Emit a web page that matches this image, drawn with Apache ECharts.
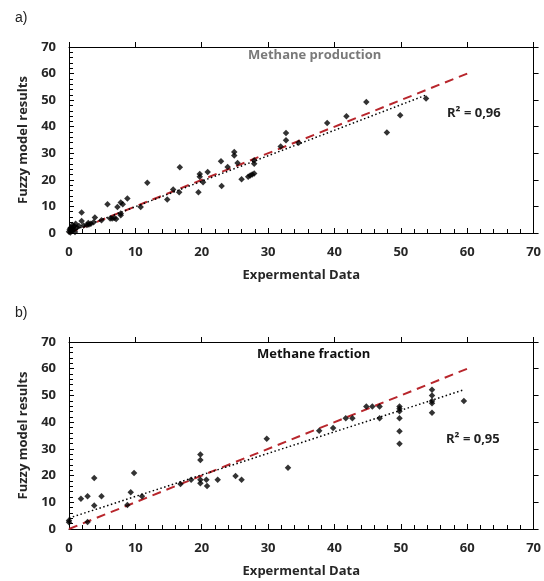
<!DOCTYPE html>
<html>
<head>
<meta charset="utf-8">
<script src="https://cdn.jsdelivr.net/npm/echarts@6/dist/echarts.min.js"></script>
<style>
  html, body { margin: 0; padding: 0; background: #fff; }
  #chart { width: 544px; height: 581px; }
</style>
</head>
<body>
<div id="chart"></div>
<script>
// a) Methane production: experimental vs fuzzy model
const prodX = [0, 0.1, 0.2, 0.3, 0.4, 0.5, 0.5, 0.7, 0.8, 0.9, 1.0, 1.2, 1.5, 0.2, 0.6,
  1.9, 1.9, 2.2, 2.7, 3.0, 3.3, 3.7, 2.9, 3.9, 4.9, 5.8, 6.2, 6.5, 6.8, 7.1, 7.3, 7.8, 8.1, 7.8, 7.8, 8.8,
  10.8, 11.8, 14.8, 15.7, 16.7, 16.6, 19.5, 19.7, 19.7, 20.2, 20.9, 22.9, 23.0, 23.9, 24.9, 24.9, 25.4,
  26.0, 27.0, 27.3, 27.6, 27.9, 27.9, 27.9, 31.9, 32.7, 32.7, 34.6, 38.9, 41.8, 44.8, 47.9, 49.9, 53.8];
const prodY = [0.5, 1.2, 0.2, 2.0, 0.8, 1.6, 3.0, 1.2, 2.5, 0.4, 3.5, 2.1, 2.6, 1.8, 2.2,
  7.7, 4.5, 2.8, 3.0, 3.2, 3.5, 4.0, 3.8, 5.8, 4.8, 10.8, 5.5, 5.5, 5.6, 5.3, 9.8, 11.5, 10.8, 7.3, 6.7, 13.0,
  9.8, 18.9, 12.6, 16.4, 24.7, 15.3, 15.3, 22.2, 21.2, 19.1, 23.0, 27.0, 17.7, 24.8, 30.5, 29.2, 26.3,
  20.2, 21.2, 21.6, 22.0, 22.4, 27.4, 26.1, 32.6, 37.6, 34.9, 34.0, 41.4, 43.9, 49.3, 37.8, 44.3, 50.6];
const prodFitX = [0, 54];
const prodFitY = [0.3, 52.1];

// b) Methane fraction: experimental vs fuzzy model
const fracX = [0, 0, 1.8, 2.8, 2.8, 3.8, 3.8, 4.9, 8.8, 9.3, 9.8, 11.0, 16.8, 18.4,
  19.8, 19.8, 19.8, 19.8, 20.7, 20.8, 22.4, 25.1, 26.0, 29.8, 33.0, 37.7, 39.8, 41.7, 42.7,
  44.8, 45.7, 46.8, 46.8, 49.8, 49.8, 49.8, 49.8, 49.8, 49.8, 54.7, 54.7, 54.7, 54.7, 54.7, 59.5];
const fracY = [3.2, 2.5, 11.3, 12.3, 2.6, 19.1, 8.8, 12.3, 9.0, 13.8, 21.0, 12.3, 16.8, 18.4,
  27.9, 25.8, 18.4, 17.1, 18.4, 16.1, 18.4, 19.8, 18.4, 33.8, 22.9, 36.8, 37.8, 41.5, 41.5,
  45.9, 45.9, 45.9, 41.5, 45.9, 45.0, 44.1, 41.5, 36.6, 31.9, 52.1, 50.0, 47.9, 47.1, 43.5, 47.9];
const fracFitX = [0, 59.5];
const fracFitY = [4.1, 52.1];

// 1:1 reference line shared by both panels
const idealX = [0, 60];
const idealY = [0, 60];

const axisTicks = [0, 10, 20, 30, 40, 50, 60, 70];

const zip = (xs, ys) => xs.map((x, i) => [x, ys[i]]);

const FONT = '"Open Sans", "Noto Sans", sans-serif';
const textDark = '#262626';

const grids = [
  { left: 69, right: 8, top: 47, height: 186 },
  { left: 69, right: 8, top: 342, height: 187 }
];

// Each panel has a labelled axis with inside ticks plus a bare twin with
// outside ticks, so major ticks cross the axis line.
function makeX(gridIndex, withLabels) {
  return {
    type: 'value', gridIndex, min: 0, max: 70, interval: 10,
    name: withLabels ? 'Expermental Data' : '',
    nameLocation: 'middle', nameGap: 36,
    nameTextStyle: { fontFamily: FONT, fontWeight: 'bold', fontSize: 13, color: textDark },
    axisLine: { show: true, onZero: false, lineStyle: { color: '#000', width: 1 } },
    axisTick: { show: true, inside: withLabels, length: 5, lineStyle: { color: '#000' } },
    minorTick: { show: withLabels, splitNumber: 5, length: 4, lineStyle: { color: '#000' } },
    axisLabel: {
      show: withLabels, margin: 13, fontFamily: FONT, fontWeight: 'bold', fontSize: 13, color: textDark,
      formatter: v => axisTicks.includes(v) ? String(v) : ''
    },
    splitLine: { show: false }
  };
}

function makeY(gridIndex, withLabels) {
  return {
    type: 'value', gridIndex, min: 0, max: 70, interval: 10,
    name: withLabels ? 'Fuzzy model results' : '',
    nameLocation: 'middle', nameGap: 36, nameRotate: 90,
    nameTextStyle: { fontFamily: FONT, fontWeight: 'bold', fontSize: 13, color: textDark },
    axisLine: { show: true, onZero: false, lineStyle: { color: '#000', width: 1 } },
    axisTick: { show: true, inside: withLabels, length: 5, lineStyle: { color: '#000' } },
    minorTick: { show: withLabels, splitNumber: 5, length: 4, lineStyle: { color: '#000' } },
    axisLabel: {
      show: withLabels, margin: 13, fontFamily: FONT, fontWeight: 'bold', fontSize: 13, color: textDark,
      formatter: v => axisTicks.includes(v) ? String(v) : ''
    },
    splitLine: { show: false }
  };
}

function panelSeries(xi, yi, pts, fitX, fitY) {
  return [
    {
      type: 'line', xAxisIndex: xi, yAxisIndex: yi, data: zip(idealX, idealY),
      showSymbol: false, silent: true, z: 2,
      lineStyle: { color: '#b8262c', width: 2, type: [9, 6] }
    },
    {
      type: 'line', xAxisIndex: xi, yAxisIndex: yi, data: zip(fitX, fitY),
      showSymbol: false, silent: true, z: 3,
      lineStyle: { color: '#000', width: 1.5, type: [1.5, 2.5] }
    },
    {
      type: 'scatter', xAxisIndex: xi, yAxisIndex: yi, data: pts,
      symbol: 'diamond', symbolSize: 6.5, z: 4,
      itemStyle: { color: '#000' }
    }
  ];
}

const chart = echarts.init(document.getElementById('chart'), null, { renderer: 'canvas' });
chart.setOption({
  animation: false,
  backgroundColor: '#fff',
  grid: grids,
  title: [
    { text: 'a)', left: 10, top: 6, textStyle: { fontFamily: '"Liberation Sans", Arial, sans-serif', fontWeight: 'normal', fontSize: 14, color: '#222' } },
    { text: 'b)', left: 10, top: 301, textStyle: { fontFamily: '"Liberation Sans", Arial, sans-serif', fontWeight: 'normal', fontSize: 14, color: '#222' } },
    { text: 'Methane production', left: 243, top: 44, textStyle: { fontFamily: FONT, fontWeight: 'bold', fontSize: 13, color: '#7a7a7a' } },
    { text: 'Methane fraction', left: 252, top: 343, textStyle: { fontFamily: FONT, fontWeight: 'bold', fontSize: 13, color: '#111' } },
    { text: 'R² = 0,96', left: 442, top: 102, textStyle: { fontFamily: FONT, fontWeight: 'bold', fontSize: 13, color: '#222' } },
    { text: 'R² = 0,95', left: 441, top: 428, textStyle: { fontFamily: FONT, fontWeight: 'bold', fontSize: 13, color: '#222' } }
  ],
  xAxis: [makeX(0, true), makeX(0, false), makeX(1, true), makeX(1, false)],
  yAxis: [makeY(0, true), makeY(0, false), makeY(1, true), makeY(1, false)],
  series: [
    ...panelSeries(0, 0, zip(prodX, prodY), prodFitX, prodFitY),
    ...panelSeries(2, 2, zip(fracX, fracY), fracFitX, fracFitY)
  ]
});
</script>
</body>
</html>
